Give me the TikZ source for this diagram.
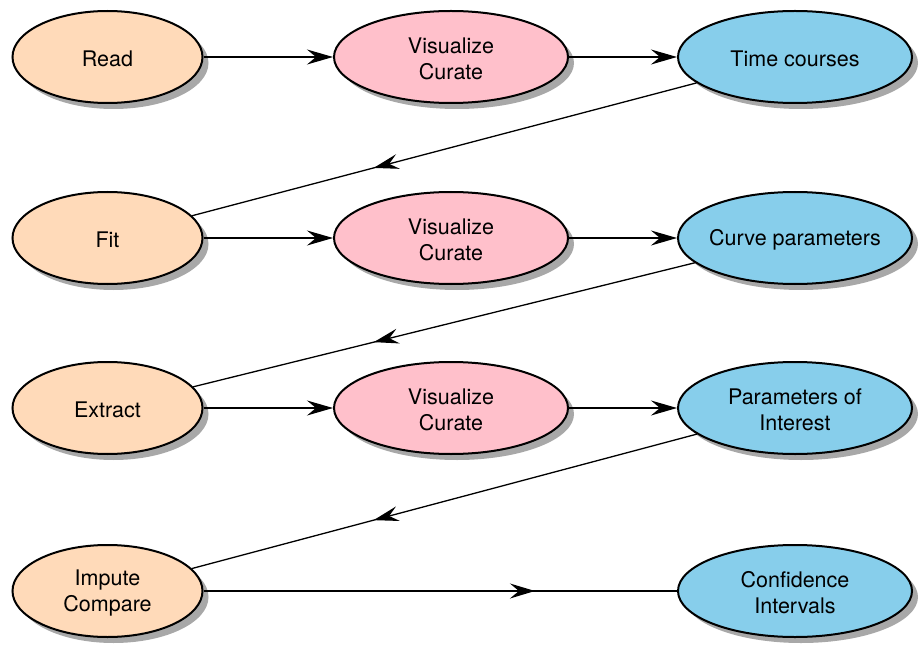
\documentclass[tikz,border=0pt]{standalone}
\usepackage{fontspec}
\setmainfont{TeX Gyre Heros}
\usetikzlibrary{shapes.geometric,arrows.meta,decorations.markings}
\definecolor{peachc}{HTML}{FFDAB9}
\definecolor{pinkc}{HTML}{FFC0CB}
\definecolor{skyc}{HTML}{87CEEB}
\definecolor{shadowc}{HTML}{A8A8A8}
\begin{document}
\begin{tikzpicture}[x=1pt,y=-1pt,
  base/.style={ellipse, draw=black, line width=2pt, inner sep=0pt,
    minimum height=92pt},
  src/.style={base, fill=peachc, minimum width=190pt},
  midc/.style={base, fill=pinkc, minimum width=234pt},
  res/.style={base, fill=skyc, minimum width=234pt},
  lbl/.style={align=center, font=\fontsize{21.5}{26}\selectfont, yshift=-2pt},
  flowarrow/.style={line width=1.3pt, -{Stealth[length=26pt,width=15pt,inset=9pt]}},
  backarrow/.style={line width=1.3pt, postaction=decorate,
    decoration={markings, mark=at position #1 with {\arrow{Stealth[length=25pt,width=15pt,inset=9pt]}}}},
]
\useasboundingbox (0,0) rectangle (921,647);

% shadows
\fill[shadowc] (113.5,63) ellipse [x radius=95, y radius=46];
\fill[shadowc] (113.5,244) ellipse [x radius=95, y radius=46];
\fill[shadowc] (113.5,414) ellipse [x radius=95, y radius=46];
\fill[shadowc] (113.5,597) ellipse [x radius=95, y radius=46];
\fill[shadowc] (457,63) ellipse [x radius=117, y radius=46];
\fill[shadowc] (457,244) ellipse [x radius=117, y radius=46];
\fill[shadowc] (457,414) ellipse [x radius=117, y radius=46];
\fill[shadowc] (801,63) ellipse [x radius=117, y radius=46];
\fill[shadowc] (801,244) ellipse [x radius=117, y radius=46];
\fill[shadowc] (801,414) ellipse [x radius=117, y radius=46];
\fill[shadowc] (801,597) ellipse [x radius=117, y radius=46];

% nodes
\node[src]  (read)  at (107.5,57) {};
\node[midc] (vis1)  at (451,57) {};
\node[res]  (tc)    at (795,57) {};
\node[src]  (fit)   at (107.5,238) {};
\node[midc] (vis2)  at (451,238) {};
\node[res]  (cp)    at (795,238) {};
\node[src]  (ext)   at (107.5,408) {};
\node[midc] (vis3)  at (451,408) {};
\node[res]  (poi)   at (795,408) {};
\node[src]  (imp)   at (107.5,591) {};
\node[res]  (ci)    at (795,591) {};

% labels
\node[lbl] (read-t) at (read) {Read};
\node[lbl] (vis1-t) at (vis1) {Visualize\\Curate};
\node[lbl] (tc-t)   at (tc)   {Time courses};
\node[lbl] (fit-t)  at (fit)  {Fit};
\node[lbl] (vis2-t) at (vis2) {Visualize\\Curate};
\node[lbl] (cp-t)   at (cp)   {Curve parameters};
\node[lbl] (ext-t)  at (ext)  {Extract};
\node[lbl] (vis3-t) at (vis3) {Visualize\\Curate};
\node[lbl] (poi-t)  at (poi)  {Parameters of\\Interest};
\node[lbl] (imp-t)  at (imp)  {Impute\\Compare};
\node[lbl] (ci-t)   at (ci)   {Confidence\\Intervals};

% horizontal edges
\draw[flowarrow] (read) -- (vis1);
\draw[flowarrow] (vis1) -- (tc);
\draw[flowarrow] (fit) -- (vis2);
\draw[flowarrow] (vis2) -- (cp);
\draw[flowarrow] (ext) -- (vis3);
\draw[flowarrow] (vis3) -- (poi);
\draw[backarrow=0.70] (imp) -- (ci);

% diagonal back edges
\draw[backarrow=0.64] (tc) -- (fit);
\draw[backarrow=0.64] (cp) -- (ext);
\draw[backarrow=0.64] (poi) -- (imp);
\end{tikzpicture}
\end{document}
